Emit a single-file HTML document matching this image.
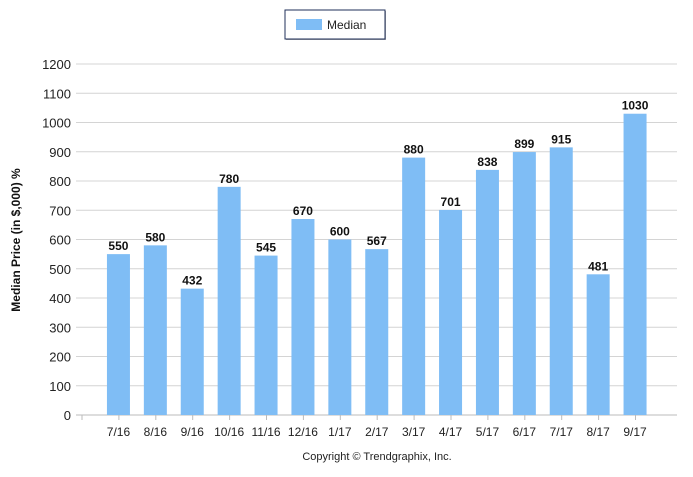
<!DOCTYPE html>
<html><head><meta charset="utf-8"><style>
body{margin:0;background:#fff;}
svg text{font-family:"Liberation Sans",sans-serif;}
</style></head><body>
<svg width="693" height="472" xmlns="http://www.w3.org/2000/svg">
<g>
<rect x="286" y="11" width="100" height="29" fill="#555" opacity="0.5"/>
<rect x="285" y="10" width="100" height="29" fill="#fff" stroke="#1f2f5a" stroke-width="1"/>
<rect x="296" y="19" width="26" height="11" fill="#7fbdf5"/>
<text x="327" y="29" font-size="12" fill="#222">Median</text>
</g>
<g id="grid"></g><g id="bars"></g><g id="labels"></g>
<text transform="translate(20,240) rotate(-90)" text-anchor="middle" font-size="12" font-weight="bold" fill="#111">Median Price (in $,000) %</text>
<text x="377" y="460" text-anchor="middle" font-size="11" fill="#222">Copyright © Trendgraphix, Inc.</text>
</svg>
<script>
const categories=["7/16","8/16","9/16","10/16","11/16","12/16","1/17","2/17","3/17","4/17","5/17","6/17","7/17","8/17","9/17"];
const values=[550,580,432,780,545,670,600,567,880,701,838,899,915,481,1030];
const yTicks=[0,100,200,300,400,500,600,700,800,900,1000,1100,1200];
const NS="http://www.w3.org/2000/svg";
const y0=415,yTop=64,yMax=1200,xL=76,xR=677,band0=100,bandW=36.9,barW=23;
function y(v){return y0-(v/yMax)*(y0-yTop);}
function xc(i){return band0+bandW*(i+0.5);}
function mk(t,a,p){const e=document.createElementNS(NS,t);for(const k in a)e.setAttribute(k,a[k]);document.getElementById(p).appendChild(e);return e;}
yTicks.forEach(t=>{
 const l=mk('line',{x1:xL,x2:xR,y1:y(t),y2:y(t),stroke:t===0?'#bbb':'#d4d4d4','stroke-width':1},'grid');
 
 
 const tx=mk('text',{x:71,y:y(t)+5,'text-anchor':'end','font-size':13,fill:'#222'},'grid');
 tx.textContent=t;
 
 
});
for(let i=0;i<=categories.length;i++){
 const tk=mk('line',{x1:band0+bandW*i-18,x2:band0+bandW*i-18,y1:y0,y2:y0+5,stroke:'#bbb'},'grid');
 
 
}
categories.forEach((c,i)=>{
 const v=values[i];
 const r=mk('rect',{x:xc(i)-barW/2,y:y(v),width:barW,height:y0-y(v),fill:'#7fbdf5'},'bars');
 
 
 const vl=mk('text',{x:xc(i),y:y(v)-4,'text-anchor':'middle','font-size':12,'font-weight':'bold',fill:'#111'},'labels');
 vl.textContent=v;
 
 
 const xl=mk('text',{x:xc(i),y:436,'text-anchor':'middle','font-size':12,fill:'#222'},'labels');
 xl.textContent=c;
 
 
});
</script>
</body></html>
